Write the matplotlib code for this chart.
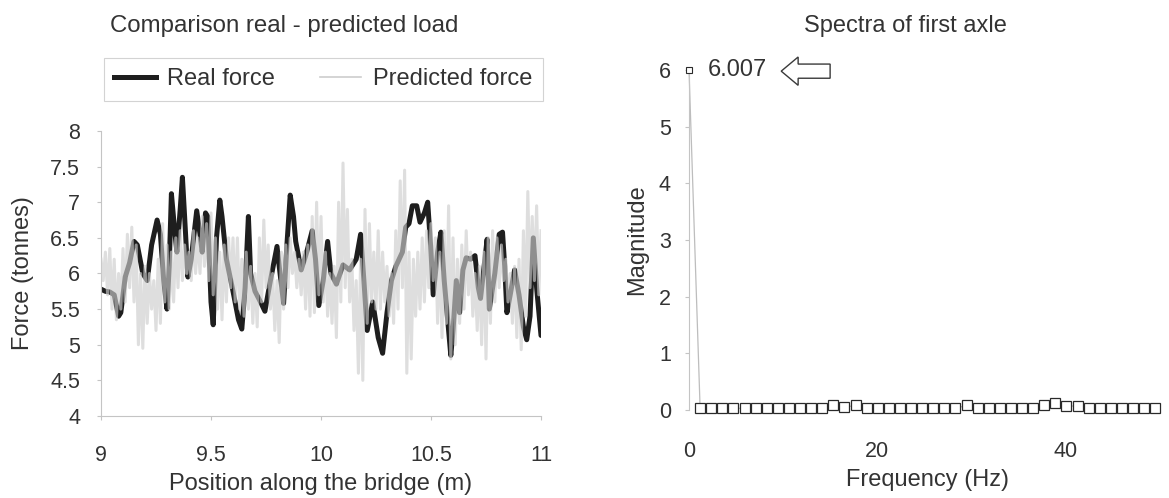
import matplotlib
matplotlib.use("Agg")
import matplotlib.pyplot as plt
from matplotlib.patches import FancyArrow
import numpy as np

plt.rcParams['font.family'] = ['Liberation Sans', 'DejaVu Sans']
txt = '#333333'
axc = '#c4c4c4'

# --- left chart: real vs predicted load ---
real_x = [9.00, 9.02, 9.04, 9.06, 9.08, 9.09, 9.11, 9.13, 9.15, 9.165, 9.19, 9.21, 9.23,
          9.255, 9.27, 9.285, 9.30, 9.31, 9.32, 9.335, 9.345, 9.36, 9.37, 9.38, 9.395,
          9.41, 9.435, 9.45, 9.46, 9.475, 9.485, 9.50, 9.51, 9.525, 9.54, 9.55, 9.57,
          9.60, 9.625, 9.64, 9.655, 9.67, 9.68, 9.70, 9.725, 9.745, 9.77, 9.80, 9.81,
          9.83, 9.845, 9.86, 9.875, 9.885, 9.91, 9.935, 9.96, 9.975, 9.99, 10.01, 10.03,
          10.045, 10.07, 10.10, 10.13, 10.16, 10.18, 10.195, 10.21, 10.235, 10.26, 10.28,
          10.30, 10.32, 10.34, 10.37, 10.385, 10.40, 10.415, 10.435, 10.45, 10.47, 10.485,
          10.50, 10.51, 10.53, 10.545, 10.56, 10.58, 10.59, 10.60, 10.615, 10.63, 10.645,
          10.66, 10.68, 10.70, 10.715, 10.725, 10.745, 10.755, 10.765, 10.79, 10.81,
          10.825, 10.835, 10.845, 10.86, 10.88, 10.90, 10.92, 10.935, 10.95, 10.965,
          10.98, 11.00]
real_f = [5.78, 5.75, 5.74, 5.70, 5.40, 5.45, 5.95, 6.15, 6.45, 6.40, 6.00, 5.90, 6.40,
          6.75, 6.55, 5.90, 5.50, 6.10, 7.12, 6.60, 6.30, 6.90, 7.35, 6.80, 5.95,
          6.20, 6.88, 6.55, 6.30, 6.85, 6.80, 5.60, 5.28, 6.50, 7.03, 6.80, 6.20,
          5.75, 5.35, 5.22, 5.80, 6.80, 6.00, 5.75, 5.60, 5.47, 5.90, 6.38, 6.10,
          5.58, 6.40, 7.10, 6.80, 6.45, 6.05, 6.30, 6.60, 6.20, 5.55, 5.90, 6.45,
          6.00, 5.85, 6.12, 6.05, 6.20, 6.55, 5.90, 5.20, 5.60, 5.10, 4.88,
          5.45, 5.90, 6.10, 6.30, 6.65, 6.70, 6.95, 6.95, 6.72, 6.85, 7.00,
          6.30, 5.70, 6.30, 6.58, 5.90, 5.20, 4.85, 5.20, 5.90, 5.45, 6.05,
          6.22, 6.20, 6.25, 5.80, 5.65, 6.20, 6.48, 5.50, 6.00, 6.55,
          6.58, 6.10, 5.45, 5.70, 6.05, 5.70, 5.25, 5.07, 5.40, 6.50,
          5.80, 5.13]

# predicted force: swing peaks at 9.00, 9.02 ... 11.00 and troughs in between
pred_peaks = [6.2, 6.3, 6.35, 6.2, 6.0, 6.35, 6.55, 6.65, 6.4, 6.0,
              6.1, 6.0, 5.9, 6.2, 6.7, 6.4, 6.3, 6.5, 6.6, 6.4,
              6.3, 6.6, 6.5, 6.8, 6.7, 6.85, 6.5, 6.3, 6.4, 6.5,
              6.5, 6.5, 6.2, 6.3, 6.1, 6.0, 6.5, 6.75, 6.4, 6.0,
              5.9, 6.3, 6.4, 6.5, 6.3, 6.2, 6.3, 6.4, 6.8, 7.0,
              6.8, 6.3, 6.0, 6.1, 7.0, 7.55, 6.9, 6.2, 5.9, 6.2,
              6.9, 6.7, 6.3, 6.6, 6.3, 6.1, 6.0, 6.6, 7.3, 7.45,
              6.3, 6.2, 6.3, 6.5, 6.6, 6.7, 6.5, 6.3, 6.6, 6.95,
              6.5, 6.2, 6.4, 6.6, 6.3, 6.0, 6.1, 6.3, 6.5, 6.6,
              6.5, 6.4, 6.2, 6.0, 6.1, 6.2, 6.6, 7.15, 6.8, 6.95,
              6.6]
pred_troughs = [5.9, 5.7, 5.5, 5.35, 5.5, 5.6, 5.8, 5.6, 5.0, 4.95,
                5.3, 5.5, 5.2, 5.3, 5.6, 5.5, 5.6, 5.8, 5.9, 6.0,
                5.9, 6.0, 6.0, 6.1, 5.9, 5.7, 5.5, 5.35, 5.6, 5.8,
                5.6, 5.5, 5.4, 5.5, 5.3, 5.25, 5.6, 5.8, 5.5, 5.2,
                5.03, 5.5, 5.8, 6.0, 5.8, 5.7, 5.5, 5.4, 5.45, 5.7,
                5.6, 5.4, 5.3, 5.1, 5.6, 5.8, 5.6, 5.2, 4.6, 4.5,
                5.3, 5.6, 5.5, 5.5, 5.6, 5.4, 5.3, 5.5, 5.8, 4.6,
                4.8, 5.4, 5.5, 5.6, 5.8, 5.9, 5.3, 5.1, 5.3, 4.8,
                5.0, 5.3, 5.5, 5.7, 5.4, 5.2, 5.0, 4.8, 5.3, 5.6,
                5.8, 5.9, 5.6, 5.3, 5.1, 4.93, 5.4, 5.8, 5.9, 5.7]

force_ticks = [4, 4.5, 5, 5.5, 6, 6.5, 7, 7.5, 8]
force_labels = ['4', '4.5', '5', '5.5', '6', '6.5', '7', '7.5', '8']
pos_ticks = [9, 9.5, 10, 10.5, 11]
pos_labels = ['9', '9.5', '10', '10.5', '11']

# --- right chart: spectrum of first axle ---
freq_step = 1.18
magnitude = [6.007, 0.03, 0.03, 0.03, 0.03, 0.03, 0.03, 0.03, 0.03, 0.03, 0.03,
             0.03, 0.03, 0.08, 0.05, 0.08, 0.03, 0.03, 0.03, 0.03, 0.03,
             0.03, 0.03, 0.03, 0.03, 0.08, 0.03, 0.03, 0.03, 0.03, 0.03,
             0.03, 0.08, 0.13, 0.07, 0.07, 0.03, 0.03, 0.03, 0.03, 0.03,
             0.03, 0.03]
freq = np.arange(len(magnitude)) * freq_step
peak_label = '6.007'

# interleave predicted swings
pred_x = []
pred_f = []
for i in range(len(pred_peaks)):
    pred_x.append(9.0 + 0.02 * i)
    pred_f.append(pred_peaks[i])
    if i < len(pred_troughs):
        pred_x.append(9.01 + 0.02 * i)
        pred_f.append(pred_troughs[i])

fig = plt.figure(figsize=(11.69, 4.98), dpi=100)
ax1 = fig.add_axes([0.0864, 0.1647, 0.3764, 0.5723])
ax2 = fig.add_axes([0.5894, 0.1767, 0.4072, 0.6827])

ax1.plot(real_x, real_f, color='#1e1e1e', lw=3.6, solid_capstyle='round',
         solid_joinstyle='round', zorder=2)
ax1.plot(pred_x, pred_f, color='#cdcdcd', lw=2.2, alpha=0.65, zorder=3)
ax1.set_xlim(9, 11)
ax1.set_ylim(4, 8)
ax1.set_xticks(pos_ticks)
ax1.set_xticklabels(pos_labels)
ax1.set_yticks(force_ticks)
ax1.set_yticklabels(force_labels)
ax1.tick_params(axis='y', length=3, pad=12, colors=axc, labelcolor=txt, labelsize=15.5)
ax1.tick_params(axis='x', length=3, pad=18, colors=axc, labelcolor=txt, labelsize=15.5)
for s in ['top', 'right']:
    ax1.spines[s].set_visible(False)
for s in ['left', 'bottom']:
    ax1.spines[s].set_color(axc)
    ax1.spines[s].set_linewidth(0.8)
ax1.set_xlabel('Position along the bridge (m)', fontsize=17, color=txt, labelpad=5)
ax1.set_ylabel('Force (tonnes)', fontsize=17, color=txt, labelpad=12)

leg_black = plt.Line2D([], [], color='#1e1e1e', lw=3.6)
leg_gray = plt.Line2D([], [], color='#cdcdcd', lw=1.2)
leg = fig.legend([leg_black, leg_gray], ['Real force', 'Predicted force'], ncol=2,
                 loc='center', bbox_to_anchor=(0.2767, 0.841), fontsize=17,
                 frameon=True, fancybox=False, handlelength=1.75, handletextpad=0.5,
                 columnspacing=1.9, borderpad=0.45, labelcolor=txt)
leg.get_frame().set_edgecolor('#c8c8c8')
leg.get_frame().set_linewidth(0.8)

fig.text(110 / 1169, 1 - 26 / 498, 'Comparison real - predicted load', fontsize=17.3,
         color=txt, ha='left', va='center')

ax2.plot(freq, magnitude, color='#bdbdbd', lw=0.9, zorder=2, clip_on=False)
ax2.plot(freq[1:], magnitude[1:], ls='none', marker='s', ms=6.5, mfc='white',
         mec='#2a2a2a', mew=0.9, clip_on=False, zorder=3)
ax2.plot(freq[:1], magnitude[:1], ls='none', marker='s', ms=4.5, mfc='white',
         mec='#2a2a2a', mew=0.8, clip_on=False, zorder=3)
ax2.set_xlim(0, 50.6)
ax2.set_ylim(0, 6)
ax2.set_xticks([0, 20, 40])
ax2.set_yticks([0, 1, 2, 3, 4, 5, 6])
ax2.tick_params(axis='y', length=3, pad=10, colors=axc, labelcolor=txt, labelsize=15.5)
ax2.tick_params(axis='x', length=0, pad=22, labelcolor=txt, labelsize=15.5)
for s in ['top', 'right', 'bottom']:
    ax2.spines[s].set_visible(False)
ax2.spines['left'].set_color(axc)
ax2.spines['left'].set_linewidth(0.8)
ax2.set_xlabel('Frequency (Hz)', fontsize=17, color=txt, labelpad=5)
ax2.set_ylabel('Magnitude', fontsize=17, color=txt, labelpad=8)

ax2.text(freq[0] + 2.0, magnitude[0], peak_label, fontsize=17, color=txt,
         ha='left', va='center')
arrow = FancyArrow(15.0, 5.98, -5.2, 0, width=0.25, head_width=0.5, head_length=1.8,
                   length_includes_head=True, fill=False, ec='#3a3a3a', lw=1.0,
                   clip_on=False)
ax2.add_patch(arrow)

fig.text(905 / 1169, 1 - 26 / 498, 'Spectra of first axle', fontsize=17,
         color=txt, ha='center', va='center')

fig.savefig('out.png', dpi=100, facecolor='white')
